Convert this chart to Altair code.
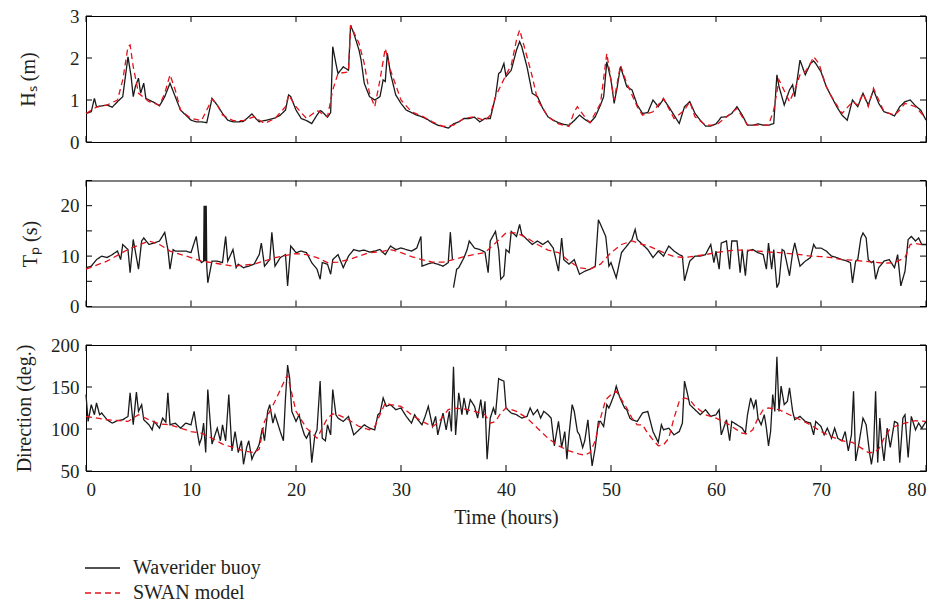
import altair as alt
import pandas as pd

# ---------------- data ----------------
names = ["Waverider buoy", "SWAN model"]

hs_buoy_t = [0,0.5,0.8,1,1.5,2,2.5,3,3.5,4,4.3,4.5,4.7,5,5.2,5.5,5.7,6,6.5,7,7.5,8,8.5,9,9.5,10,10.5,11,11.5,11.8,12,12.5,13,13.5,14,14.5,15,15.5,15.8,16.2,16.5,17,17.5,18,18.5,19,19.3,19.5,20,20.5,21,21.5,22,22.3,22.5,23,23.3,23.5,23.8,24,24.5,25,25.2,25.5,26,26.2,26.5,27,27.5,28,28.3,28.5,28.7,29,29.5,30,30.5,31,31.5,32,32.5,33,33.5,34,34.5,35,35.5,36,36.5,37,37.5,38,38.5,39,39.3,39.5,39.8,40,40.5,41,41.3,41.5,42,42.5,43,43.5,44,44.5,45,45.5,46,46.5,47,47.5,48,48.5,49,49.3,49.6,50,50.3,50.6,50.9,51.2,51.5,52,52.5,53,53.5,54,54.5,55,55.5,56,56.5,57,57.5,58,58.5,59,59.5,60,60.5,61,61.5,62,62.5,63,63.5,64,64.5,65,65.5,65.8,66,66.5,67,67.3,67.5,68,68.5,69,69.3,69.5,70,70.5,71,71.5,72,72.5,73,73.5,74,74.5,75,75.5,76,76.5,77,77.5,78,78.5,79,79.5,80]
hs_buoy_v = [0.68,0.72,1.04,0.84,0.86,0.88,0.83,0.96,1.08,2.03,1.55,1.08,1.32,1.52,1.16,1.4,1.04,1.0,0.94,0.86,1.08,1.40,1.08,0.76,0.64,0.52,0.48,0.48,0.46,0.8,1.04,0.88,0.68,0.52,0.48,0.48,0.49,0.6,0.67,0.55,0.48,0.51,0.54,0.57,0.64,0.76,1.12,1.08,0.76,0.56,0.51,0.44,0.64,0.75,0.72,0.59,0.7,2.27,1.87,1.63,1.79,1.71,2.78,2.59,2.19,1.95,1.4,1.08,1.0,1.08,1.48,1.44,2.11,1.63,1.12,0.92,0.76,0.70,0.64,0.60,0.54,0.46,0.40,0.37,0.33,0.43,0.48,0.56,0.56,0.59,0.48,0.56,0.56,1.08,1.63,1.67,1.87,1.56,1.71,2.19,2.39,2.27,1.79,1.16,1.08,0.80,0.60,0.52,0.46,0.42,0.40,0.51,0.64,0.54,0.46,0.60,0.88,1.08,1.91,1.48,0.92,1.32,1.79,1.56,1.32,1.24,0.88,0.68,0.70,1.0,0.84,1.02,0.84,0.64,0.44,0.84,0.96,0.68,0.52,0.38,0.38,0.43,0.59,0.60,0.68,0.84,0.64,0.40,0.40,0.43,0.40,0.40,0.44,1.60,1.32,0.88,1.24,1.36,1.08,1.95,1.60,1.87,1.93,1.87,1.67,1.32,1.08,0.84,0.64,0.52,1.0,0.84,1.16,0.88,1.24,0.92,0.72,0.68,0.62,0.84,0.96,1.0,0.86,0.76,0.52]

hs_swan_t = [0,1,2,3,3.5,4,4.2,4.5,5,6,7,7.5,8,8.5,9,10,11,11.5,12,12.5,13,14,15,16,17,18,19,19.3,20,21,22,23,23.5,24,25,25.2,26,26.5,27,27.5,28,28.5,29,30,31,32,33,34,35,36,37,38,38.5,39,40,40.5,41,41.3,42,42.5,43,44,45,46,46.5,46.8,47.5,48,49,49.6,50,50.3,50.9,51.5,52.5,53,54,55,56,57,57.5,58,59,60,61,62,63,64,65,65.5,66,67,67.5,68,68.5,69,69.3,69.8,70.5,71,72,73,73.5,74,74.5,75,75.5,76,77,77.5,78,79,80]
hs_swan_v = [0.68,0.83,0.88,1.0,1.48,2.27,2.31,1.79,1.16,0.96,0.88,1.16,1.60,1.24,0.76,0.56,0.51,0.76,1.02,0.88,0.64,0.51,0.51,0.60,0.44,0.56,0.84,1.12,0.84,0.56,0.75,0.60,1.24,1.63,1.67,2.78,2.35,1.87,1.16,0.84,1.48,2.23,1.71,1.0,0.72,0.62,0.48,0.37,0.40,0.56,0.60,0.51,0.64,1.08,1.60,1.83,2.43,2.67,2.03,1.56,1.0,0.60,0.43,0.37,0.72,0.84,0.60,0.46,0.92,2.11,1.48,1.0,1.83,1.40,0.84,0.64,0.72,1.04,0.56,0.76,0.96,0.60,0.40,0.40,0.60,0.80,0.40,0.40,0.40,0.76,1.48,0.96,1.24,1.60,1.67,1.87,2.03,1.87,1.32,1.08,0.68,0.96,0.88,1.16,0.84,1.28,1.0,0.72,0.64,0.76,0.92,0.84,0.56]

tp_buoy_t = [0,0.5,1,1.5,2,2.5,3,3.3,3.5,4,4.2,4.5,5,5.3,5.5,6,6.5,7,7.5,7.8,8,8.3,8.5,9,9.5,10,10.5,10.8,11,11.2,11.25,11.3,11.35,11.4,11.45,11.5,11.6,12,12.5,13,13.3,13.5,14,14.3,14.5,15,15.5,16,16.5,16.7,17,17.5,17.7,18,18.5,19,19.2,19.5,20,20.5,21,21.5,22,22.3,22.5,23,23.3,23.5,24,24.5,25,25.5,26,26.5,27,27.5,28,28.5,29,29.5,30,30.5,31,31.5,31.9,32,32.5,33,33.5,34,34.5,34.7,34.9,
             35,35.3,35.5,36,36.3,36.5,37,37.5,38,38.3,38.5,39,39.3,39.5,39.8,40,40.3,40.5,41,41.3,41.5,42,42.5,43,43.5,44,44.5,45,45.3,45.5,46,46.5,47,47.5,48,48.5,48.8,49,49.5,49.8,50,50.5,51,51.5,52,52.3,52.5,53,53.5,54,54.5,55,55.5,56,56.5,56.8,57,57.5,58,58.5,59,59.5,59.8,60,60.3,60.5,61,61.3,61.5,62,62.3,62.5,62.8,63,63.5,64,64.5,64.8,65,65.3,65.5,65.8,66,66.3,66.5,67,67.3,67.5,68,68.5,69,69.3,69.5,70,70.5,71,71.5,72,72.5,72.8,73,73.3,73.5,73.8,74,74.3,74.5,74.8,75,75.2,75.5,76,76.5,77,77.3,77.6,78,78.3,78.6,79,79.3,79.6,80]
tp_buoy_v = [7.7,8.0,9.3,10.0,9.7,10.3,11.0,9.3,12.3,11.3,6.7,13.3,7.4,13.0,13.6,12.3,12.6,13.0,14.7,11.3,7.4,11.3,11.0,11.0,11.0,10.7,13.9,9.3,8.7,9.0,20.0,9.0,20.0,9.0,20.0,8.0,4.7,9.0,9.0,8.7,13.9,9.0,11.3,7.7,8.4,7.7,8.0,8.4,10.3,12.6,8.0,9.3,14.7,8.0,9.7,10.3,4.1,12.0,10.7,11.0,10.7,8.7,7.4,5.4,8.7,8.4,6.4,9.3,10.3,7.7,10.0,11.3,11.0,11.2,10.8,11.0,11.3,10.3,12.0,11.3,11.6,11.3,11.0,11.6,13.9,8.0,8.4,8.7,8.4,8.0,8.7,14.7,9.3,
             3.75,7.4,7.7,9.7,11.3,13.0,11.6,11.3,10.8,6.7,13.0,14.9,11.3,5.4,6.1,11.3,10.7,14.9,13.9,16.3,14.3,13.3,12.3,13.0,12.3,13.0,11.6,7.0,13.6,9.3,8.4,9.3,6.4,7.0,7.4,8.0,17.2,16.3,13.9,8.0,8.7,5.7,10.7,12.0,13.3,15.3,13.3,12.3,11.3,9.7,11.0,10.0,12.0,11.0,10.3,10.0,5.1,9.0,10.0,10.0,10.3,12.3,8.7,11.0,7.4,12.6,13.0,7.4,13.0,13.0,6.7,11.3,6.1,11.0,11.3,10.7,10.3,7.4,12.6,7.4,11.3,3.75,4.7,11.3,11.0,6.1,10.7,12.6,8.0,9.0,9.7,12.3,11.6,11.6,11.0,10.0,9.7,9.3,9.0,8.7,4.7,9.0,9.3,13.6,14.6,13.6,9.3,8.7,9.0,5.4,7.7,9.0,9.3,7.7,10.3,4.1,7.0,13.3,13.9,13.0,13.6,12.3,12.3]
tp_gap_at = 35  # the buoy record breaks just before this hour

tp_swan_t = [0,2,4,6,7,8,10,11,12,14,16,18,20,21,22,23,24,25,27,28,29,30,31,32,33,34,35,36,37,38,39,40,41,42,43,44,45,46,47,48,49,50,51,52,53,53.5,55,56,57,58,59,60,61,62,63,64,65,66,67,68,69,70,71,72,73,74,75,76,77,78,78.5,79,80]
tp_swan_v = [7.4,9.0,11.3,13.0,12.3,11.0,9.7,9.0,8.7,8.0,8.4,9.7,10.5,10.3,9.7,8.7,8.8,9.3,10.7,10.8,11.3,10.7,9.9,9.3,8.8,8.8,9.3,9.9,10.3,10.7,12.6,14.6,14.6,13.6,12.3,11.2,10.7,9.0,7.7,7.4,8.4,10.7,12.3,13.0,12.3,12.1,10.7,9.9,9.7,10.0,10.3,10.7,11.0,11.2,11.2,11.0,10.8,10.7,10.5,10.3,10.0,9.9,9.7,9.3,9.2,9.0,8.8,8.6,8.7,9.7,12.3,12.5,12.1]

dir_buoy_t = [0,0.2,0.5,0.8,1,1.3,1.5,2,2.5,3,3.5,4,4.2,4.5,4.8,5,5.3,5.5,6,6.3,6.5,7,7.3,7.6,7.8,8,8.5,9,9.5,10,10.3,10.5,10.8,11,11.2,11.4,11.6,11.8,12,12.5,12.8,13,13.3,13.6,13.9,14.2,14.5,14.8,15,15.3,15.5,15.8,16,16.3,16.5,16.8,17,17.3,17.5,17.8,18,18.3,18.5,18.8,19,19.2,19.4,19.6,20,20.3,20.5,20.8,21,21.3,21.5,21.8,22,22.3,22.5,22.8,23,23.3,23.5,23.8,24,24.5,25,25.5,26,26.5,27,27.5,27.8,28,28.3,28.6,29,29.5,30,30.5,31,31.3,31.6,32,32.3,32.6,33,33.3,33.5,34,34.3,34.6,34.8,35,35.2,35.5,35.8,36,36.3,36.6,37,37.3,37.6,37.8,38,38.2,38.5,38.8,39,39.3,39.6,39.8,40,40.5,41,41.5,42,42.3,42.6,43,43.3,43.6,44,44.3,44.6,45,45.3,45.6,45.8,46,46.3,46.5,46.8,47,47.3,47.5,47.8,48,48.2,48.5,48.8,49,49.3,49.6,49.8,50,50.3,50.5,50.8,51,51.3,51.5,51.8,52,52.5,53,53.5,54,54.5,54.8,55,55.5,56,56.5,56.8,57,57.3,57.5,58,58.5,59,59.5,60,60.3,60.5,61,61.3,61.5,62,62.5,62.8,63,63.3,63.6,63.8,64,64.3,64.6,64.8,65,65.2,65.4,65.6,65.8,66,66.2,66.5,66.8,67,67.3,67.5,68,68.5,69,69.3,69.5,70,70.3,70.6,71,71.3,71.6,72,72.3,72.6,72.9,73.1,73.3,73.6,74,74.3,74.6,74.8,75,75.2,75.4,75.6,75.8,76,76.3,76.6,77,77.3,77.5,77.8,78,78.3,78.6,79,79.3,79.6,80]
dir_buoy_v = [141,109,129,117,131,117,119,111,107,110,111,115,143,105,144,121,129,111,105,99,109,101,113,108,143,105,107,101,107,105,121,103,82,89,107,72,147,113,82,101,86,105,86,141,74,97,72,86,58,78,86,64,70,76,82,101,86,121,129,107,117,105,97,86,137,176,160,121,109,117,105,93,89,97,60,93,99,157,89,86,105,93,147,117,113,109,115,93,99,105,101,99,117,119,137,127,129,123,125,115,107,117,111,105,115,127,103,115,93,119,99,121,97,174,93,143,117,137,117,135,127,113,135,113,133,64,113,125,117,160,158,157,125,119,117,113,115,125,117,123,113,121,117,113,80,109,78,97,64,93,129,121,97,93,78,86,111,82,56,78,109,109,103,129,125,131,141,151,139,133,125,123,113,111,109,119,121,97,84,105,99,101,93,97,107,157,141,129,123,117,123,115,117,123,93,111,86,109,105,101,95,117,137,125,135,113,105,117,101,80,97,141,121,186,121,151,129,133,149,121,111,115,109,107,93,109,103,93,101,89,101,89,86,97,74,93,145,62,82,113,105,74,58,74,145,60,113,82,62,101,78,109,107,60,113,117,66,115,99,107,101,109]

dir_swan_t = [0,2,4,5,6,7,8,9,10,11,12,13,14,15,16,16.5,17,18,19,19.2,20,21,22,22.5,23,23.5,24,25,26,27,27.5,28,28.5,29,30,31,32,32.5,33,33.5,34,34.5,35,36,37,38,38.5,39,39.5,40,41,42,43,44,45,46,47,47.5,48,48.5,49,49.5,50,50.5,51,51.5,52,52.5,53,53.5,54,54.5,55,55.5,56,56.5,57,57.5,58,59,60,61,62,62.5,63,63.5,64,64.5,65,66,67,68,69,70,71,72,73,74,74.5,75,75.5,76,76.5,77,78,79,80]
dir_swan_v = [115,111,109,117,111,106,105,101,97,95,89,82,78,74,72,76,109,133,160,164,121,101,89,101,113,118,117,111,103,99,103,117,131,129,127,117,109,106,103,107,115,123,125,124,121,117,107,109,119,125,121,113,101,89,80,74,70,69,72,86,113,135,141,145,135,125,113,105,105,95,87,80,81,89,113,133,137,135,127,117,113,107,99,95,94,99,113,123,125,123,117,111,105,97,91,86,84,76,72,72,76,89,99,103,107,110,109]

x_ticks = [0, 10, 20, 30, 40, 50, 60, 70, 80]
hs_ticks = [0, 1, 2, 3]
tp_ticks = [0, 5, 10, 15, 20, 25]
dir_ticks = [50, 100, 150, 200]

# ---------------- layout constants ----------------
W = 840
H = 126
FONT = "Liberation Serif"
TXT = "#231f20"
BLACK = "#1a1a1a"
RED = "#e3121b"


def frame(bt, bv, st, sv, gap=None):
    seg = [0 if (gap is None or t < gap) else 1 for t in bt]
    b = pd.DataFrame({"t": bt, "v": bv, "series": names[0], "seg": seg})
    s = pd.DataFrame({"t": st, "v": sv, "series": names[1], "seg": 2})
    return pd.concat([b, s], ignore_index=True)


def panel(df, ydomain, yticks, ytitle, title_x, show_x):
    if show_x:
        xaxis = alt.Axis(values=x_ticks, ticks=False, domain=False, grid=False,
                         labelPadding=9, title="Time (hours)", titlePadding=8,
                         format="d")
    else:
        xaxis = None
    xenc = alt.X("t:Q", scale=alt.Scale(domain=[0, 80], nice=False, zero=False),
                 axis=xaxis)
    yenc = alt.Y("v:Q", scale=alt.Scale(domain=ydomain, nice=False, zero=False),
                 axis=alt.Axis(values=yticks, ticks=False, domain=False, grid=False,
                               labelPadding=7, title=ytitle, titleX=title_x,
                               titleY=H / 2, titleAngle=270, titleAlign="center",
                               titleBaseline="alphabetic", format="d"))
    lines = alt.Chart(df).mark_line(strokeWidth=1.3).encode(
        x=xenc,
        y=yenc,
        color=alt.Color("series:N", sort=names,
                        scale=alt.Scale(domain=names, range=[BLACK, RED]),
                        legend=alt.Legend(title=None)),
        strokeDash=alt.StrokeDash("series:N", sort=names,
                                  scale=alt.Scale(domain=names, range=[[1, 0], [6, 4]]),
                                  legend=alt.Legend(title=None)),
        detail="seg:N",
    )
    xt = pd.DataFrame({"t": x_ticks})
    yt = pd.DataFrame({"v": yticks})
    tick_style = dict(color="black", strokeWidth=1)
    top = alt.Chart(xt).mark_rule(**tick_style).encode(x="t:Q", y=alt.value(0), y2=alt.value(6))
    bot = alt.Chart(xt).mark_rule(**tick_style).encode(x="t:Q", y=alt.value(H - 6), y2=alt.value(H))
    lft = alt.Chart(yt).mark_rule(**tick_style).encode(y="v:Q", x=alt.value(0), x2=alt.value(6))
    rgt = alt.Chart(yt).mark_rule(**tick_style).encode(y="v:Q", x=alt.value(W - 6), x2=alt.value(W))
    return alt.layer(lines, top, bot, lft, rgt).properties(width=W, height=H)


p1 = panel(frame(hs_buoy_t, hs_buoy_v, hs_swan_t, hs_swan_v), [0, 3], hs_ticks,
           "Hₛ (m)", -52, False)
p2 = panel(frame(tp_buoy_t, tp_buoy_v, tp_swan_t, tp_swan_v, gap=tp_gap_at), [0, 25], tp_ticks,
           "Tₚ (s)", -50, False)
p3 = panel(frame(dir_buoy_t, dir_buoy_v, dir_swan_t, dir_swan_v), [50, 200], dir_ticks,
           "Direction (deg.)", -56, True)

chart = alt.vconcat(p1, p2, p3, spacing=38.5, bounds="flush").properties(
    padding={"left": 13, "top": 6, "right": 0, "bottom": 0}
).configure_view(
    stroke="black", strokeWidth=1
).configure_axis(
    labelFont=FONT, labelFontSize=19, labelColor=TXT,
    titleFont=FONT, titleFontSize=20, titleColor=TXT, titleFontWeight="normal"
).configure_legend(
    orient="none", legendX=5.5, legendY=541, direction="vertical",
    symbolType="M-1.75,0H1.75", symbolSize=400, symbolStrokeWidth=1.3,
    labelFont=FONT, labelFontSize=20, labelColor=TXT, labelOffset=19.5,
    rowPadding=4, padding=0
)

chart.save("out.html", embed_options={"renderer": "svg", "actions": False})
